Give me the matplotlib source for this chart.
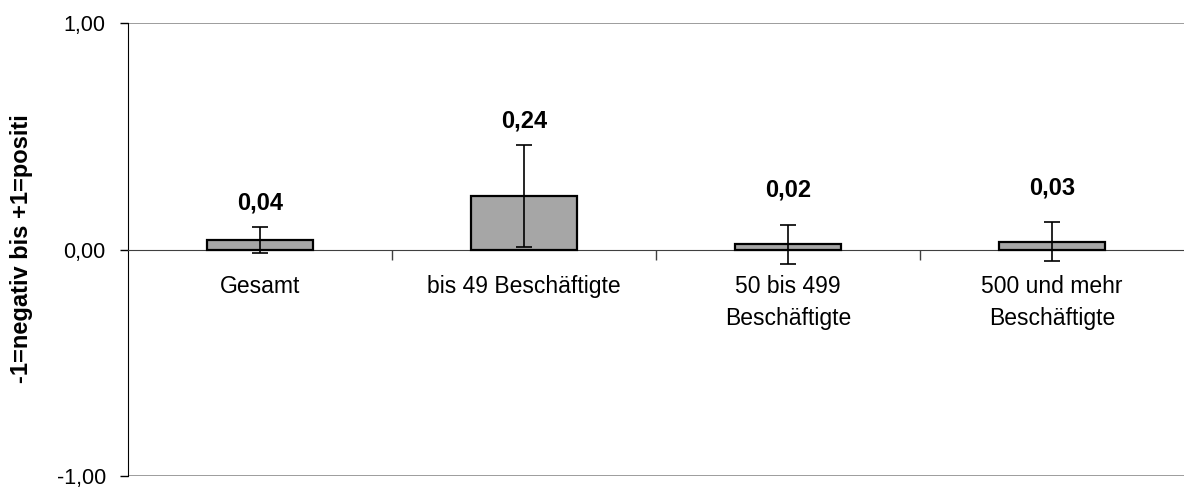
import numpy as np
import matplotlib.pyplot as plt

plt.rcParams['font.family'] = ['Liberation Sans', 'DejaVu Sans']

categories = ["Gesamt", "bis 49 Beschäftigte", "50 bis 499\nBeschäftigte", "500 und mehr\nBeschäftigte"]
values = [0.044, 0.236, 0.023, 0.035]
errors = [0.057, 0.225, 0.088, 0.085]
value_labels = ["0,04", "0,24", "0,02", "0,03"]

fig = plt.figure(figsize=(11.84, 4.88), dpi=100)
ax = fig.add_axes([128/1184, 1 - 476/488, 1 - 128/1184, (476 - 23.3)/488])

x = np.arange(len(categories))
ax.bar(x, values, width=0.405, color='#a6a6a6', edgecolor='black', linewidth=1.6, zorder=3)
ax.errorbar(x, values, yerr=errors, fmt='none', ecolor='black', elinewidth=1.2,
            capsize=5.8, capthick=1.2, zorder=4)

# label heights above bars (data units)
label_y = [0.205, 0.57, 0.263, 0.273]
for xi, ly, txt in zip(x, label_y, value_labels):
    ax.text(xi, ly, txt, ha='center', va='center', fontsize=17, fontweight='bold')

ax.set_xlim(-0.5, len(categories) - 0.5)
ax.set_ylim(-1, 1)
ax.set_yticks([-1, 0, 1])
ax.set_yticklabels(["-1,00", "0,00", "1,00"], fontsize=15.5)
ax.tick_params(axis='y', length=6, width=1, pad=10, color='black')

ax.spines['bottom'].set_position(('data', 0))
ax.spines['bottom'].set_color('#404040')
ax.spines['top'].set_visible(False)
ax.spines['right'].set_visible(False)
ax.spines['left'].set_color('black')

ax.set_xticks(x)
ax.set_xticklabels(categories, fontsize=16.5, linespacing=1.5)
ax.tick_params(axis='x', which='major', length=0, pad=18)
ax.set_xticks(x[:-1] + 0.5, minor=True)
ax.tick_params(axis='x', which='minor', length=7, width=1, direction='out', color='#404040')

for yv in [-1, 1]:
    ax.axhline(yv, color='#8c8c8c', linewidth=1.2, zorder=1)

fig.text(22/1184, 1 - 383/488, "-1=negativ bis +1=positi", rotation=90,
         ha='center', va='bottom', fontsize=17, fontweight='bold')

fig.savefig("out.png", dpi=100)
